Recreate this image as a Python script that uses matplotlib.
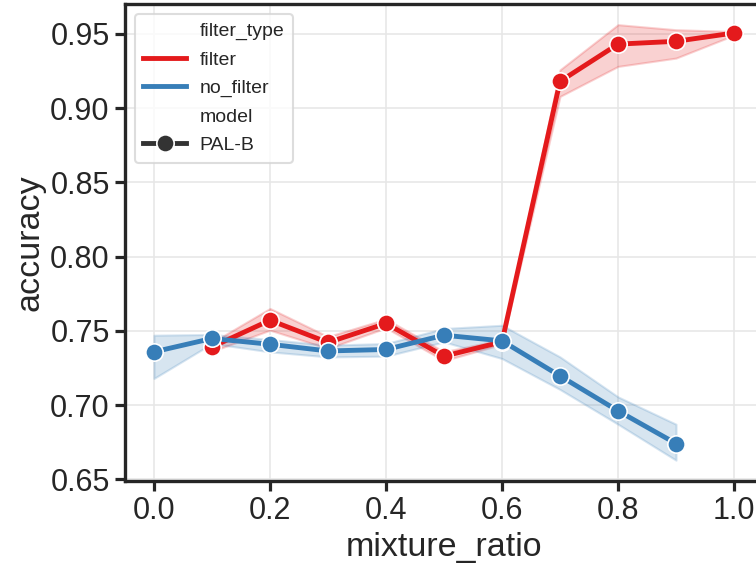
import numpy as np
import matplotlib
matplotlib.use("Agg")
import matplotlib.pyplot as plt
from matplotlib.lines import Line2D

# mixture ratios evaluated
mixture_ratio = [0.0, 0.1, 0.2, 0.3, 0.4, 0.5, 0.6, 0.7, 0.8, 0.9, 1.0]

# PAL-B accuracy with the filter (no run at ratio 0.0)
filter_x = [0.1, 0.2, 0.3, 0.4, 0.5, 0.6, 0.7, 0.8, 0.9, 1.0]
filter_acc = [0.7392, 0.7572, 0.7422, 0.7550, 0.7330, 0.7426, 0.9179, 0.9430, 0.9449, 0.9505]
filter_lo = [0.7362, 0.7505, 0.7382, 0.7520, 0.7300, 0.7410, 0.9078, 0.9280, 0.9336, 0.9490]
filter_hi = [0.7422, 0.7651, 0.7462, 0.7580, 0.7360, 0.7442, 0.9257, 0.9561, 0.9527, 0.9515]

# PAL-B accuracy without the filter (no run at ratio 1.0)
nofilter_x = [0.0, 0.1, 0.2, 0.3, 0.4, 0.5, 0.6, 0.7, 0.8, 0.9]
nofilter_acc = [0.7359, 0.7449, 0.7410, 0.7365, 0.7375, 0.7471, 0.7433, 0.7197, 0.6962, 0.6742]
nofilter_lo = [0.7180, 0.7415, 0.7359, 0.7325, 0.7330, 0.7426, 0.7314, 0.7106, 0.6872, 0.6630]
nofilter_hi = [0.7471, 0.7476, 0.7442, 0.7404, 0.7415, 0.7516, 0.7538, 0.7325, 0.7056, 0.6872]

RED = "#e41a1c"
BLUE = "#377eb8"
DARK = "#262626"

plt.rcParams["font.family"] = ["Liberation Sans", "DejaVu Sans"]

fig = plt.figure(figsize=(7.56, 5.69), dpi=100)
ax = fig.add_axes([0.1653, 0.1547, 0.844, 0.838])

ax.set_axisbelow(True)
ax.grid(True, color="#e6e6e6", linewidth=1.1)

for x, y, lo, hi, c in [(filter_x, filter_acc, filter_lo, filter_hi, RED),
                        (nofilter_x, nofilter_acc, nofilter_lo, nofilter_hi, BLUE)]:
    ax.fill_between(x, lo, hi, color=c, alpha=0.2, linewidth=1.5)
    ax.plot(x, y, color=c, linewidth=3.5, marker="o", markersize=12.5,
            markeredgecolor="white", markeredgewidth=1.2)

ax.set_xlim(-0.05, 1.05)
ax.set_ylim(0.649, 0.9699)
ax.set_xticks([0.0, 0.2, 0.4, 0.6, 0.8, 1.0])
ax.set_yticks([0.65, 0.70, 0.75, 0.80, 0.85, 0.90, 0.95])
ax.set_xticklabels(["0.0", "0.2", "0.4", "0.6", "0.8", "1.0"])
ax.set_yticklabels(["0.65", "0.70", "0.75", "0.80", "0.85", "0.90", "0.95"])

ax.tick_params(axis="both", labelsize=22, length=7, width=2.3, color=DARK,
               labelcolor=DARK, pad=4)
for s in ax.spines.values():
    s.set_color(DARK)
    s.set_linewidth(2.4)

ax.set_xlabel("mixture_ratio", fontsize=24.5, color=DARK, labelpad=4)
ax.set_ylabel("accuracy", fontsize=24.5, color=DARK, labelpad=3)

# legend with seaborn-like sub headers
blank = Line2D([], [], color="none")
handles = [blank,
           Line2D([], [], color=RED, linewidth=3.5),
           Line2D([], [], color=BLUE, linewidth=3.5),
           blank,
           Line2D([], [], color="#333333", linewidth=3.5, marker="o", markersize=12.5,
                  markeredgecolor="white", markeredgewidth=1.2)]
labels = ["filter_type", "filter", "no_filter", "model", "PAL-B"]
leg = ax.legend(handles, labels, loc="upper left", fontsize=14, frameon=True,
                fancybox=True, borderpad=0.45, labelspacing=0.55, handlelength=2.2,
                handletextpad=0.7)
leg.get_frame().set_edgecolor("#d5d5d5")
leg.get_frame().set_linewidth(1.5)
for t in leg.get_texts():
    t.set_color(DARK)

fig.savefig("out.png", dpi=100)
